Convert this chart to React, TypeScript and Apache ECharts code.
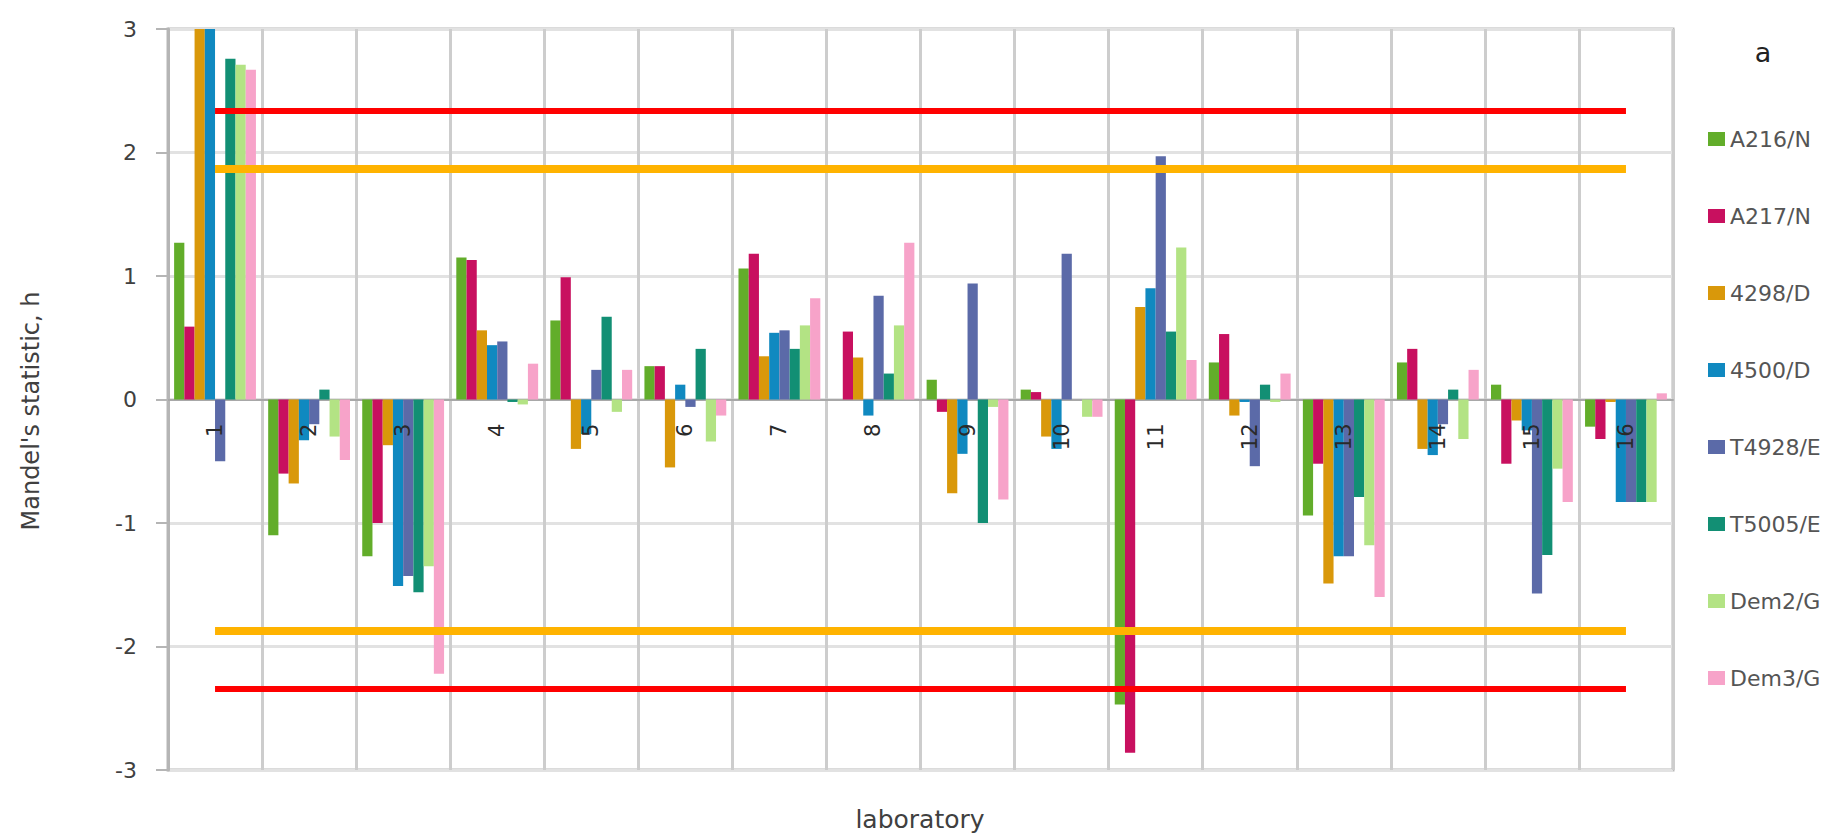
import React, { useEffect, useRef } from "react";
import * as echarts from "echarts";

const labs = ["1", "2", "3", "4", "5", "6", "7", "8", "9", "10", "11", "12", "13", "14", "15", "16"];
const seriesNames = ["A216/N", "A217/N", "4298/D", "4500/D", "T4928/E", "T5005/E", "Dem2/G", "Dem3/G"];
const colors = ["#62ad2a", "#c8105f", "#d9980a", "#1089c0", "#5b6aa8", "#128f74", "#b3e384", "#f7a3c9"];

const a216 = [1.27, -1.1, -1.27, 1.15, 0.64, 0.27, 1.06, 0.0, 0.16, 0.08, -2.47, 0.3, -0.94, 0.3, 0.12, -0.22];
const a217 = [0.59, -0.6, -1.0, 1.13, 0.99, 0.27, 1.18, 0.55, -0.1, 0.06, -2.86, 0.53, -0.52, 0.41, -0.52, -0.32];
const d4298 = [3.2, -0.68, -0.37, 0.56, -0.4, -0.55, 0.35, 0.34, -0.76, -0.3, 0.75, -0.13, -1.49, -0.4, -0.17, -0.02];
const d4500 = [3.1, -0.33, -1.51, 0.44, -0.28, 0.12, 0.54, -0.13, -0.44, -0.4, 0.9, -0.02, -1.27, -0.45, -0.25, -0.83];
const t4928 = [-0.5, -0.2, -1.43, 0.47, 0.24, -0.06, 0.56, 0.84, 0.94, 1.18, 1.97, -0.54, -1.27, -0.2, -1.57, -0.83];
const t5005 = [2.76, 0.08, -1.56, -0.02, 0.67, 0.41, 0.41, 0.21, -1.0, 0.0, 0.55, 0.12, -0.79, 0.08, -1.26, -0.83];
const dem2 = [2.71, -0.3, -1.35, -0.04, -0.1, -0.34, 0.6, 0.6, -0.06, -0.14, 1.23, -0.02, -1.18, -0.32, -0.56, -0.83];
const dem3 = [2.67, -0.49, -2.22, 0.29, 0.24, -0.13, 0.82, 1.27, -0.81, -0.14, 0.32, 0.21, -1.6, 0.24, -0.83, 0.05];
const seriesValues = [a216, a217, d4298, d4500, t4928, t5005, dem2, dem3];

const yTicks = [-3, -2, -1, 0, 1, 2, 3];
const critical1 = 2.34; // 1% level
const critical5 = 1.87; // 5% level

const FONT = "DejaVu Sans";

const GRID_TOP = 29;
const GRID_BOTTOM = 69;
const CHART_H = 839;

export default function App() {
  const ref = useRef<HTMLDivElement>(null);

  useEffect(() => {
    document.body.style.margin = "0";
    if (!ref.current) return;
    const chart = echarts.init(ref.current, undefined, { renderer: "svg" });

    const bars = seriesNames.map((name, i) => ({
      name,
      type: "bar",
      data: seriesValues[i],
      xAxisIndex: 0,
      barGap: "0%",
      barCategoryGap: "13%",
      itemStyle: { color: colors[i] },
      clip: true,
      z: 2,
    }));

    const first = labs[0];
    const last = labs[labs.length - 1];
    // label axis sits at the middle of the symmetric -3..3 range (the zero line)
    const plotH = CHART_H - GRID_TOP - GRID_BOTTOM;
    const zeroOffset = -plotH / 2;

    chart.setOption({
      animation: false,
      backgroundColor: "#ffffff",
      textStyle: { fontFamily: FONT },
      grid: {
        left: 168,
        right: 175,
        top: GRID_TOP,
        bottom: GRID_BOTTOM,
        show: true,
        borderColor: "#b8b8b8",
        borderWidth: 3,
      },
      legend: {
        data: seriesNames,
        orient: "vertical",
        left: 1703,
        top: 123,
        itemWidth: 17,
        itemHeight: 14,
        itemGap: 55,
        icon: "rect",
        textStyle: { fontFamily: FONT, fontSize: 22, color: "#555555", lineHeight: 20 },
      },
      xAxis: [
        {
          type: "category",
          data: labs,
          position: "bottom",
          axisLine: { show: true, onZero: true, lineStyle: { color: "#a8a8a8", width: 2 } },
          axisTick: { show: false },
          axisLabel: { show: false },
          splitLine: { show: true, interval: 0, lineStyle: { color: "#cdcdcd", width: 3 } },
          z: 0,
        },
        {
          type: "category",
          data: labs,
          position: "bottom",
          offset: zeroOffset,
          axisLine: { show: false, onZero: false },
          axisTick: { show: false },
          splitLine: { show: false },
          axisLabel: {
            show: true,
            interval: 0,
            rotate: 90,
            margin: 24,
            fontSize: 21,
            color: "#2a2a2a",
            fontFamily: FONT,
          },
          z: 10,
        },
      ],
      yAxis: {
        type: "value",
        min: -3,
        max: 3,
        interval: 1,
        axisLine: { show: true, lineStyle: { color: "#b5b5b5", width: 3 } },
        axisTick: { show: true, inside: false, length: 12, lineStyle: { color: "#b5b5b5", width: 2 } },
        axisLabel: {
          margin: 31,
          fontSize: 22,
          color: "#404040",
          fontFamily: FONT,
          formatter: (v: number) => (yTicks.includes(v) ? String(v) : ""),
        },
        splitLine: { show: true, lineStyle: { color: "#e2e2e2", width: 3 } },
      },
      series: [
        ...bars,
        {
          name: "limits",
          type: "line",
          data: [],
          xAxisIndex: 0,
          silent: true,
          markLine: {
            silent: true,
            symbol: ["none", "none"],
            label: { show: false },
            z: 5,
            data: [
              [
                { coord: [first, critical1], lineStyle: { color: "#ff0000", width: 6, type: "solid" } },
                { coord: [last, critical1] },
              ],
              [
                { coord: [first, critical5], lineStyle: { color: "#ffb300", width: 8, type: "solid" } },
                { coord: [last, critical5] },
              ],
              [
                { coord: [first, -critical5], lineStyle: { color: "#ffb300", width: 8, type: "solid" } },
                { coord: [last, -critical5] },
              ],
              [
                { coord: [first, -critical1], lineStyle: { color: "#ff0000", width: 6, type: "solid" } },
                { coord: [last, -critical1] },
              ],
            ],
          },
        },
      ],
      graphic: [
        {
          type: "text",
          x: 31,
          y: 411,
          rotation: Math.PI / 2,
          style: {
            text: "Mandel's statistic, h",
            fontFamily: FONT,
            fontSize: 24,
            fill: "#404040",
            textAlign: "center",
            textVerticalAlign: "middle",
          },
        },
        {
          type: "text",
          x: 920,
          y: 819,
          style: {
            text: "laboratory",
            fontFamily: FONT,
            fontSize: 25,
            fill: "#404040",
            textAlign: "center",
            textVerticalAlign: "middle",
          },
        },
        {
          type: "text",
          x: 1763,
          y: 52,
          style: {
            text: "a",
            fontFamily: FONT,
            fontSize: 27,
            fill: "#222222",
            textAlign: "center",
            textVerticalAlign: "middle",
          },
        },
      ],
    });

    return () => {
      chart.dispose();
    };
  }, []);

  return <div ref={ref} style={{ width: 1848, height: CHART_H }} />;
}
